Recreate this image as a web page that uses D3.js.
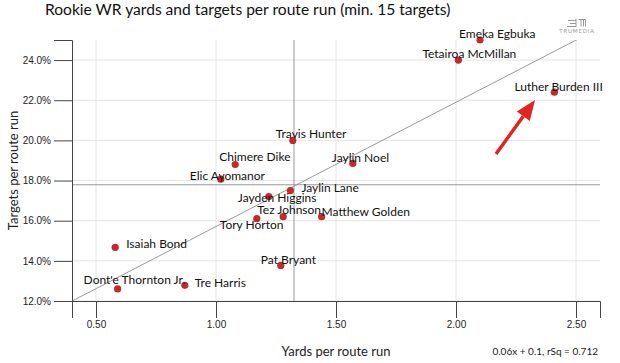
<!DOCTYPE html>
<html>
<head>
<meta charset="utf-8">
<script src="https://cdn.jsdelivr.net/npm/d3@7"></script>
<style>
  body { margin: 0; background: #fff; }
  .tick text { font-family: "Liberation Sans", Arial, sans-serif; font-size: 10px; fill: #222; }
  .lbl { font-family: Lato, sans-serif; font-size: 12px; fill: #111; }
</style>
</head>
<body>
<div id="chart"></div>
<script>
// players and their rates
var players = ["Emeka Egbuka", "Tetairoa McMillan", "Luther Burden III", "Travis Hunter", "Chimere Dike",
  "Jaylin Noel", "Elic Ayomanor", "Jaylin Lane", "Jayden Higgins", "Tez Johnson", "Matthew Golden",
  "Tory Horton", "Isaiah Bond", "Pat Bryant", "Dont'e Thornton Jr.", "Tre Harris"];
var yprr = [2.10, 2.01, 2.41, 1.32, 1.08, 1.57, 1.02, 1.31, 1.22, 1.28, 1.44, 1.17, 0.58, 1.27, 0.59, 0.87];
var tprr = [0.250, 0.240, 0.224, 0.200, 0.188, 0.1885, 0.1807, 0.175, 0.172, 0.162, 0.162, 0.161, 0.1467, 0.1377, 0.126, 0.1278];
var xTicks = [0.5, 1.0, 1.5, 2.0, 2.5];
var yTicks = [0.12, 0.14, 0.16, 0.18, 0.20, 0.22, 0.24];
var avgX = 1.325, avgY = 0.1779;
var slope = 0.0619, intercept = 0.0952;

// where each name sits relative to its dot [dx, dy of text start / middle]
var labelPos = {
  "Emeka Egbuka": [-21, -6], "Tetairoa McMillan": [-36, -6], "Luther Burden III": [-40, -5],
  "Travis Hunter": [-17, -7], "Chimere Dike": [-16, -8], "Jaylin Noel": [-21, -6],
  "Elic Ayomanor": [-31, -3], "Jaylin Lane": [11, -3], "Jayden Higgins": [-31, 1],
  "Tez Johnson": [-26, -7], "Matthew Golden": [0, -5], "Tory Horton": [-37, 6],
  "Isaiah Bond": [11, -4], "Pat Bryant": [-20, -6], "Dont'e Thornton Jr.": [-34, -9], "Tre Harris": [10, -3]
};

var width = 620, height = 363;
var margin = {left: 72, right: 20, top: 40, bottom: 62};

var svg = d3.select("#chart").append("svg")
    .attr("width", width).attr("height", height);

var x = d3.scaleLinear().domain([0.4, 2.6]).range([margin.left, width - margin.right]);
var y = d3.scaleLinear().domain([0.12, 0.25]).range([height - margin.bottom, margin.top]);

svg.append("defs").append("clipPath").attr("id", "plotclip")
  .append("rect").attr("x", x(0.4)).attr("y", y(0.25))
  .attr("width", x(2.6) - x(0.4)).attr("height", y(0.12) - y(0.25));

// grid
svg.append("g").selectAll("line").data(xTicks).enter().append("line")
    .attr("x1", d => x(d)).attr("x2", d => x(d))
    .attr("y1", y(0.25)).attr("y2", y(0.12))
    .attr("stroke", "#e4e4e4");
svg.append("g").selectAll("line").data(yTicks).enter().append("line")
    .attr("x1", x(0.4)).attr("x2", x(2.6))
    .attr("y1", d => y(d)).attr("y2", d => y(d))
    .attr("stroke", "#e4e4e4");

// averages
svg.append("line").attr("x1", x(avgX)).attr("x2", x(avgX)).attr("y1", y(0.25)).attr("y2", y(0.12))
    .attr("stroke", "#999");
svg.append("line").attr("x1", x(0.4)).attr("x2", x(2.6)).attr("y1", y(avgY)).attr("y2", y(avgY))
    .attr("stroke", "#999");

// regression
svg.append("line").attr("clip-path", "url(#plotclip)")
    .attr("x1", x(0.4)).attr("y1", y(slope * 0.4 + intercept))
    .attr("x2", x(2.6)).attr("y2", y(slope * 2.6 + intercept))
    .attr("stroke", "#999").attr("stroke-width", 1);

// axes
var xAxis = svg.append("g").attr("transform", "translate(0," + y(0.12) + ")")
    .call(d3.axisBottom(x).tickValues(xTicks).tickFormat(d3.format(".2f")).tickSize(17).tickSizeOuter(17).tickPadding(3));
var yAxis = svg.append("g").attr("transform", "translate(" + x(0.4) + ",0)")
    .call(d3.axisLeft(y).tickValues(yTicks).tickFormat(d3.format(".1%")).tickSize(18).tickSizeOuter(18).tickPadding(3));
svg.selectAll(".domain, .tick line").attr("stroke", "#444");

// dots
var idx = d3.range(players.length);
svg.append("g").selectAll("circle").data(idx).enter().append("circle")
    .attr("cx", i => x(yprr[i])).attr("cy", i => y(tprr[i]))
    .attr("r", 3.6).attr("fill", "#c42a2a");

svg.append("g").selectAll("text").data(idx).enter().append("text")
    .attr("class", "lbl")
    .attr("x", i => x(yprr[i]) + labelPos[players[i]][0])
    .attr("y", i => y(tprr[i]) + labelPos[players[i]][1])
    .attr("dy", "0.35em")
    .text(i => players[i]);

// titles
svg.append("text").attr("x", 45).attr("y", 15)
    .style("font-family", "Lato, sans-serif").style("font-size", "15.6px").attr("fill", "#111")
    .text("Rookie WR yards and targets per route run (min. 15 targets)");
svg.append("text").attr("x", (x(0.4) + x(2.6)) / 2).attr("y", 356).attr("text-anchor", "middle")
    .style("font-family", "Lato, sans-serif").style("font-size", "13px").attr("fill", "#222")
    .text("Yards per route run");
svg.append("text").attr("transform", "translate(18," + (y(0.12) + y(0.25)) / 2 + ") rotate(-90)")
    .attr("text-anchor", "middle")
    .style("font-family", "Lato, sans-serif").style("font-size", "13px").attr("fill", "#222")
    .text("Targets per route run");
svg.append("text").attr("x", 598).attr("y", 355).attr("text-anchor", "end")
    .style("font-family", "Lato, sans-serif").style("font-size", "10px").attr("fill", "#222")
    .text("0.06x + 0.1, rSq = " + "0.712");

// logo
var logo = svg.append("g").attr("fill", "#999").attr("stroke", "#999");
logo.append("text").attr("x", 577).attr("y", 33).attr("text-anchor", "middle").attr("stroke", "none")
    .style("font-family", "DejaVu Sans, sans-serif").style("font-size", "5.5px").style("letter-spacing", "0.8px")
    .text("TRUMEDIA");
logo.append("path").attr("fill", "none").attr("stroke-width", 1)
    .attr("d", "M568,20.5h8 M570,23.5h6 M567,26.5h9 M576,19v8 M578.5,19.5h7v7 M581,19.5v7 M583.5,19.5v7");

// arrow pointing to Luther Burden
var ax0 = 496, ay0 = 154, ax1 = 535, ay1 = 100;
var ang = Math.atan2(ay1 - ay0, ax1 - ax0);
var hl = 20, hw = 8;
var bx = ax1 - hl * Math.cos(ang), by = ay1 - hl * Math.sin(ang);
svg.append("line").attr("x1", ax0).attr("y1", ay0).attr("x2", bx).attr("y2", by)
    .attr("stroke", "#e42222").attr("stroke-width", 3.5);
svg.append("path").attr("fill", "#e42222")
    .attr("d", "M" + ax1 + "," + ay1 +
      "L" + (bx + hw * Math.sin(ang)) + "," + (by - hw * Math.cos(ang)) +
      "L" + (bx - hw * Math.sin(ang)) + "," + (by + hw * Math.cos(ang)) + "Z");
</script>
</body>
</html>
